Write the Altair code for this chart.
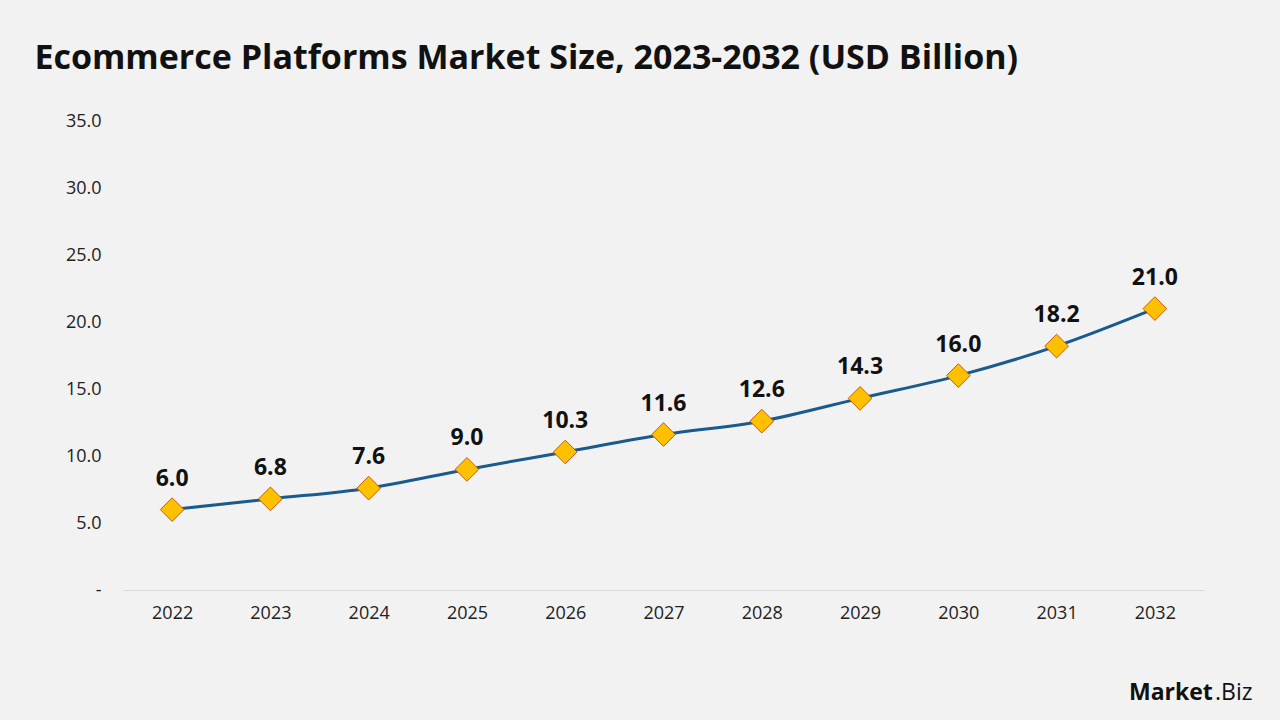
import altair as alt
import pandas as pd

years = ["2022", "2023", "2024", "2025", "2026", "2027", "2028", "2029", "2030", "2031", "2032"]
values = [6.0, 6.8, 7.6, 9.0, 10.3, 11.6, 12.6, 14.3, 16.0, 18.2, 21.0]
y_ticks = [0, 5, 10, 15, 20, 25, 30, 35]

df = pd.DataFrame({"year": years, "value": values})
FONT = "Open Sans"

x_enc = alt.X("year:O", scale=alt.Scale(padding=0.5),
              axis=alt.Axis(title=None, labelAngle=0, labelFontSize=18, labelColor="#222222",
                            labelFont=FONT, labelPadding=14, ticks=False, domainColor="#d9d9d9",
                            domainWidth=1.2, grid=False))
y_enc = alt.Y("value:Q", scale=alt.Scale(domain=[0, 35], nice=False),
              axis=alt.Axis(title=None, values=y_ticks, labelFontSize=18, labelColor="#222222",
                            labelFont=FONT, labelPadding=22, ticks=False, domain=False, grid=False,
                            labelExpr="datum.value == 0 ? '-' : format(datum.value, '.1f')"))

base = alt.Chart(df)
line = base.mark_line(color="#1a5a8c", strokeWidth=3, interpolate="monotone").encode(x=x_enc, y=y_enc)
pts = base.mark_point(shape="diamond", size=560, filled=True, fill="#FFC000", stroke="#C55A11",
                      strokeWidth=1, opacity=1).encode(x=x_enc, y=y_enc)
labels = base.mark_text(fontSize=23, fontWeight="bold", font=FONT, color="#111111", baseline="bottom",
                        dy=-19).encode(x=x_enc, y=y_enc, text=alt.Text("value:Q", format=".1f"))

logo1 = alt.Chart(pd.DataFrame({"t": ["Market"]})).mark_text(
    fontSize=23, fontWeight="bold", font=FONT, color="#111111", align="left", baseline="alphabetic"
).encode(x=alt.value(1006), y=alt.value(579), text="t:N")
logo2 = alt.Chart(pd.DataFrame({"t": [".Biz"]})).mark_text(
    fontSize=23, font=FONT, color="#111111", align="left", baseline="alphabetic"
).encode(x=alt.value(1092), y=alt.value(579), text="t:N")

chart = alt.layer(line, pts, labels, logo1, logo2).properties(
    width=1081, height=469,
    padding={"left": 123, "top": 121, "right": 76, "bottom": 130},
    autosize=alt.AutoSizeParams(type="none"),
    background="#f2f2f2",
    title=alt.Title("Ecommerce Platforms Market Size, 2023-2032 (USD Billion)", anchor="start",
                    fontSize=34, fontWeight="bold", font=FONT, color="#111111", dx=-31, offset=36),
).configure_view(stroke=None)

chart.save("out.html", embed_options={"renderer": "svg", "actions": False})
